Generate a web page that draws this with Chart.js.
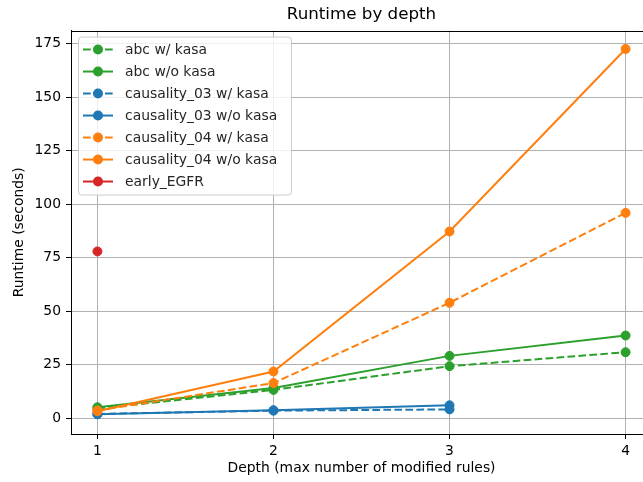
<!DOCTYPE html>
<html>
<head>
<meta charset="utf-8">
<script src="https://cdn.jsdelivr.net/npm/chart.js@4/dist/chart.umd.min.js"></script>
<style>
  html, body { margin: 0; padding: 0; background: #fff; overflow: hidden; width: 643px; height: 482px; }
  #wrap { width: 660px; height: 482px; }
</style>
</head>
<body>
<div id="wrap"><canvas id="c" width="660" height="482"></canvas></div>
<script>
const depths = [1, 2, 3, 4];
const yTicks = [0, 25, 50, 75, 100, 125, 150, 175];
const yLimits = [-7.3, 181.2];
const seriesNames = ["abc w/ kasa", "abc w/o kasa", "causality_03 w/ kasa", "causality_03 w/o kasa",
                     "causality_04 w/ kasa", "causality_04 w/o kasa", "early_EGFR"];
const abcWithKasa = [4.6, 13.3, 24.4, 30.9];
const abcWithoutKasa = [5.2, 14.2, 29.2, 38.7];
const c03WithKasa = [2.1, 3.6, 4.2];
const c03WithoutKasa = [1.9, 3.8, 6.1];
const c04WithKasa = [3.7, 16.5, 54.0, 96.0];
const c04WithoutKasa = [3.3, 21.9, 87.3, 172.6];
const earlyEGFR = [78.0];

const allValues = [abcWithKasa, abcWithoutKasa, c03WithKasa, c03WithoutKasa, c04WithKasa, c04WithoutKasa, earlyEGFR];
const colors = ["#2ca02c", "#2ca02c", "#1f77b4", "#1f77b4", "#ff7f0e", "#ff7f0e", "#d62728"];
const dashed = [true, false, true, false, true, false, false];
const DASH = [7.7, 3.3];

const datasets = allValues.map((vals, i) => ({
  label: seriesNames[i],
  data: vals.map((v, k) => ({ x: depths[k], y: v })),
  borderColor: colors[i],
  backgroundColor: colors[i],
  pointBackgroundColor: colors[i],
  pointBorderColor: colors[i],
  borderWidth: 2,
  borderDash: dashed[i] ? DASH : [],
  pointRadius: 4.5,
  pointBorderWidth: 1,
  pointHoverRadius: 4.5,
  tension: 0,
  fill: false,
  order: allValues.length - i
}));

const xPad = (depths[depths.length - 1] - depths[0]) * 0.05;

const FONT = "'DejaVu Sans', sans-serif";
const FS = 13.9;

const framePlugin = {
  id: 'frame',
  afterDatasetsDraw(chart) {
    const { ctx, chartArea: a } = chart;
    ctx.save();
    ctx.strokeStyle = '#000';
    ctx.lineWidth = 1;
    ctx.strokeRect(Math.round(a.left) + 0.5, Math.round(a.top) + 0.5,
                   Math.round(a.right - a.left), Math.round(a.bottom - a.top));
    ctx.restore();
  }
};

const legendPlugin = {
  id: 'mplLegend',
  afterDraw(chart) {
    const { ctx, chartArea: a } = chart;
    const x0 = a.left + 7, y0 = a.top + 6, w = 213, rowH = 22;
    const h = rowH * chart.data.datasets.length + 4;
    ctx.save();
    ctx.beginPath();
    if (ctx.roundRect) ctx.roundRect(x0 + 0.5, y0 + 0.5, w, h, 3); else ctx.rect(x0 + 0.5, y0 + 0.5, w, h);
    ctx.fillStyle = 'rgba(255,255,255,0.8)';
    ctx.fill();
    ctx.strokeStyle = '#cccccc';
    ctx.lineWidth = 1;
    ctx.stroke();
    ctx.font = FS + "px " + FONT;
    ctx.textBaseline = 'middle';
    chart.data.datasets.forEach((ds, i) => {
      const yy = y0 + 13 + i * rowH;
      ctx.strokeStyle = ds.borderColor;
      ctx.lineWidth = 2;
      ctx.setLineDash(ds.borderDash || []);
      ctx.beginPath();
      ctx.moveTo(x0 + 5, yy);
      ctx.lineTo(x0 + 35, yy);
      ctx.stroke();
      ctx.setLineDash([]);
      ctx.beginPath();
      ctx.arc(x0 + 20, yy, 5, 0, Math.PI * 2);
      ctx.fillStyle = ds.borderColor;
      ctx.fill();
      ctx.fillStyle = '#262626';
      ctx.fillText(ds.label, x0 + 47, yy + 1);
    });
    ctx.restore();
  }
};

new Chart(document.getElementById('c'), {
  type: 'line',
  data: { datasets },
  plugins: [framePlugin, legendPlugin],
  options: {
    responsive: false,
    animation: false,
    events: [],
    layout: { padding: { left: 0, right: 8, top: 0, bottom: 0 } },
    plugins: {
      legend: { display: false },
      tooltip: { enabled: false },
      title: {
        display: true,
        text: 'Runtime by depth',
        fullSize: false,
        color: '#000',
        font: { family: FONT, size: 16.7, weight: 'normal', lineHeight: 1.2 },
        padding: { top: 4.5, bottom: 6 }
      }
    },
    scales: {
      x: {
        type: 'linear',
        min: depths[0] - xPad,
        max: depths[depths.length - 1] + xPad,
        afterBuildTicks(scale) { scale.ticks = depths.map(v => ({ value: v })); },
        afterFit(scale) { scale.height = 48; },
        ticks: {
          color: '#000', padding: 4,
          font: { family: FONT, size: FS },
          callback: v => String(v),
          maxRotation: 0, autoSkip: false
        },
        grid: { color: '#b0b0b0', lineWidth: 1, tickColor: '#000', tickLength: 5, drawTicks: true },
        border: { display: true, color: '#000', width: 1 },
        title: {
          display: true, text: 'Depth (max number of modified rules)', color: '#000',
          font: { family: FONT, size: FS, lineHeight: 1.2 },
          padding: { top: 0, bottom: 5 }
        }
      },
      y: {
        type: 'linear',
        min: yLimits[0],
        max: yLimits[1],
        afterBuildTicks(scale) { scale.ticks = yTicks.map(v => ({ value: v })); },
        afterFit(scale) { scale.width = 71; },
        ticks: {
          color: '#000', padding: 5,
          font: { family: FONT, size: FS },
          callback: v => String(v),
          autoSkip: false
        },
        grid: { color: '#b0b0b0', lineWidth: 1, tickColor: '#000', tickLength: 5, drawTicks: true },
        border: { display: true, color: '#000', width: 1 },
        title: {
          display: true, text: 'Runtime (seconds)', color: '#000',
          font: { family: FONT, size: FS, lineHeight: 1.2 },
          padding: { top: 11, bottom: 0 }
        }
      }
    }
  }
});
</script>
</body>
</html>
